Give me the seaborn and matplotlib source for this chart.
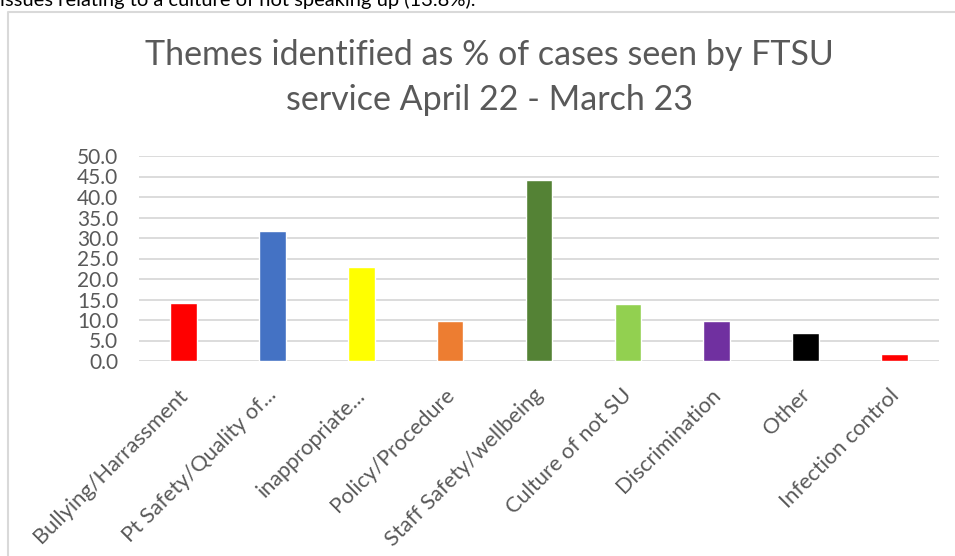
import matplotlib
matplotlib.use("Agg")
import matplotlib.pyplot as plt
from matplotlib.lines import Line2D
from matplotlib.transforms import ScaledTranslation
import seaborn as sns
import pandas as pd

categories = ["Bullying/Harrassment", "Pt Safety/Quality of...", "inappropriate...",
              "Policy/Procedure", "Staff Safety/wellbeing", "Culture of not SU",
              "Discrimination", "Other", "Infection control"]
values = [14.2, 31.7, 22.9, 9.7, 44.1, 13.8, 9.7, 6.8, 1.7]
colors = ["#FF0000", "#4472C4", "#FFFF00", "#ED7D31", "#548235", "#92D050",
          "#7030A0", "#000000", "#FF0000"]
yticks = [0, 5, 10, 15, 20, 25, 30, 35, 40, 45, 50]
title_lines = ["Themes identified as % of cases seen by FTSU",
               "service April 22 - March 23"]
top_text = "issues relating to a culture of not speaking up (13.8%)."

sns.set_theme(style="white")
plt.rcParams["font.family"] = ["Lato", "DejaVu Sans"]

W, H = 955, 556
fig = plt.figure(figsize=(W / 100, H / 100), dpi=100)
ax = fig.add_axes([139 / W, 1 - 361 / H, 800 / W, 205 / H])

df = pd.DataFrame({"cat": categories, "val": values})
sns.barplot(data=df, x="cat", y="val", hue="cat", palette=colors, legend=False,
            width=0.3, ax=ax, saturation=1)

ax.set_ylim(0, 50)
ax.set_xlim(-0.5, len(categories) - 0.5)
ax.set_yticks(yticks)
ax.set_yticklabels([f"{v:.1f}" for v in yticks], color="#595959", fontsize=15)
ax.yaxis.grid(True, color="#D9D9D9", linewidth=1.3)
ax.set_axisbelow(True)
for s in ax.spines.values():
    s.set_visible(False)
ax.tick_params(axis="y", length=0, pad=15)
ax.tick_params(axis="x", length=0, labelbottom=False)
ax.set_xlabel("")
ax.set_ylabel("")

# rotated category labels, right end anchored under each bar
off = ScaledTranslation(-0.06, -0.24, fig.dpi_scale_trans)
for i, cat in enumerate(categories):
    ax.text(i, 0, cat, transform=ax.get_xaxis_transform() + off,
            rotation=45, rotation_mode="anchor", ha="right", va="top",
            fontsize=15.7, color="#595959")

fig.text(489 / W, 1 - 65 / H, title_lines[0], ha="center", va="baseline",
         fontsize=24.5, color="#595959")
fig.text(489 / W, 1 - 110 / H, title_lines[1], ha="center", va="baseline",
         fontsize=24.5, color="#595959")

# chart frame (top and left edges visible in the crop)
fig.add_artist(Line2D([8 / W, 8 / W, 1.0], [-0.01, 1 - 12 / H, 1 - 12 / H],
                      transform=fig.transFigure, color="#D9D9D9", linewidth=1.5))
fig.text(0 / W, 1 - 6 / H, top_text, ha="left", va="baseline", fontsize=14.5,
         color="#000000")

fig.savefig("out.png", dpi=100)
